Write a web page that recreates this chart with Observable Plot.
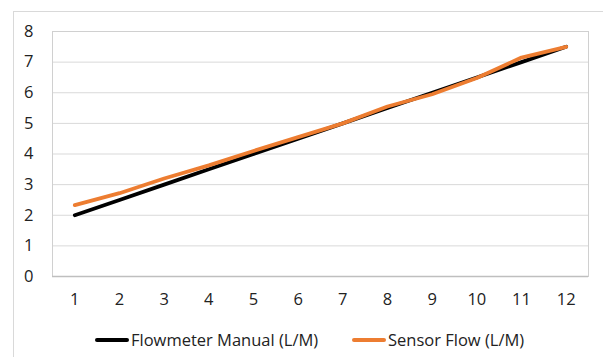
<!DOCTYPE html>
<html>
<head>
<meta charset="utf-8">
<script src="https://cdn.jsdelivr.net/npm/d3@7"></script>
<script src="https://cdn.jsdelivr.net/npm/@observablehq/plot@0.6"></script>
<style>
  html, body { margin: 0; padding: 0; background: #fff; }
  #wrap { position: relative; width: 603px; height: 357px; overflow: hidden; font-family: "Open Sans", sans-serif; }
  #border { position: absolute; left: 13px; top: 11px; width: 620px; height: 400px; border-left: 1px solid #d9d9d9; border-top: 1px solid #d9d9d9; }
  #chart { position: absolute; left: 0; top: 0; }
  #legend { position: absolute; left: 0; top: 322px; width: 603px; height: 35px; font-size: 16.5px; color: #222; }
  .item { position: absolute; top: 6px; display: flex; align-items: center; white-space: nowrap; }
  .swatch { width: 34px; height: 4px; border-radius: 2px; margin-right: 2px; }
</style>
</head>
<body>
<div id="wrap">
  <div id="border"></div>
  <div id="chart"></div>
  <div id="legend"></div>
</div>
<script>
const samples = [1, 2, 3, 4, 5, 6, 7, 8, 9, 10, 11, 12];
const flowmeterManual = [2.0, 2.5, 3.0, 3.5, 4.0, 4.5, 5.0, 5.5, 6.0, 6.5, 7.0, 7.5];
const sensorFlow = [2.33, 2.72, 3.2, 3.63, 4.1, 4.55, 5.0, 5.55, 5.95, 6.48, 7.15, 7.5];
const seriesNames = ["Flowmeter Manual (L/M)", "Sensor Flow (L/M)"];
const seriesColors = ["#000000", "#ED7D31"];
const yTicks = [0, 1, 2, 3, 4, 5, 6, 7, 8];

const rows = [];
samples.forEach((s, i) => {
  rows.push({x: s, y: flowmeterManual[i], series: seriesNames[0]});
  rows.push({x: s, y: sensorFlow[i], series: seriesNames[1]});
});

const chart = Plot.plot({
  width: 603,
  height: 322,
  marginLeft: 52,
  marginRight: 15,
  marginTop: 31,
  marginBottom: 46,
  style: {fontFamily: "Open Sans, sans-serif", fontSize: "16.5px", color: "#222", background: "transparent"},
  x: {domain: [0.5, 12.5], ticks: samples, tickFormat: d => String(d)},
  y: {domain: [0, 8], ticks: yTicks},
  color: {domain: seriesNames, range: seriesColors},
  marks: [
    Plot.gridY(yTicks, {stroke: "#d9d9d9", strokeOpacity: 1}),
    Plot.frame({stroke: "#d0d0d0"}),
    Plot.ruleY([0], {stroke: "#bfbfbf", strokeWidth: 1.3}),
    Plot.axisY(yTicks, {tickSize: 0, tickPadding: 19, label: null, fontSize: 16.5}),
    Plot.axisX(samples, {tickSize: 0, tickPadding: 17, label: null, fontSize: 16.5}),
    Plot.line(rows, {x: "x", y: "y", z: "series", stroke: "series", strokeWidth: 3.8, strokeLinecap: "round", strokeLinejoin: "round"})
  ]
});
document.getElementById("chart").appendChild(chart);

const legend = document.getElementById("legend");
const lefts = [95, 352];
seriesNames.forEach((name, i) => {
  const item = document.createElement("div");
  item.className = "item";
  item.style.left = lefts[i] + "px";
  const sw = document.createElement("span");
  sw.className = "swatch";
  sw.style.background = seriesColors[i];
  const tx = document.createElement("span");
  tx.textContent = name;
  item.appendChild(sw);
  item.appendChild(tx);
  legend.appendChild(item);
});
</script>
</body>
</html>
